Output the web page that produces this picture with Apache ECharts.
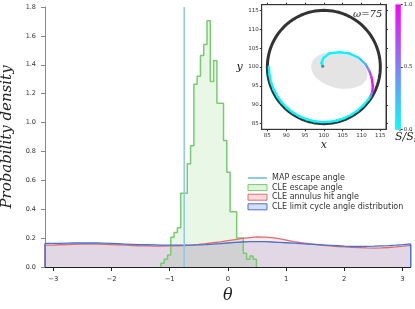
<!DOCTYPE html>
<html><head><meta charset="utf-8">
<script src="https://cdn.jsdelivr.net/npm/echarts@6/dist/echarts.min.js"></script>
<style>html,body{margin:0;padding:0;background:#fff}#c{width:415px;height:309px}</style>
</head><body><div id="c"></div>
<script>
// ---- main histogram data ----
const thetaTicks = [-3, -2, -1, 0, 1, 2, 3];
const densityTicks = [0, 0.2, 0.4, 0.6, 0.8, 1.0, 1.2, 1.4, 1.6, 1.8];
const ringBinCount = 50; // bins spanning [-pi, pi]
const limitCycleDensity = [0.163,0.164,0.165,0.166,0.167,0.166,0.166,0.165,0.163,0.161,0.159,0.157,0.155,0.154,0.153,0.152,0.151,0.151,0.151,0.152,0.153,0.155,0.158,0.162,0.166,0.170,0.173,0.175,0.176,0.175,0.173,0.171,0.168,0.165,0.162,0.159,0.156,0.153,0.150,0.147,0.144,0.142,0.142,0.143,0.144,0.146,0.148,0.151,0.155,0.160];
const annulusHitDensity = [0.152,0.154,0.155,0.157,0.158,0.158,0.158,0.157,0.155,0.153,0.151,0.149,0.147,0.146,0.145,0.145,0.146,0.147,0.149,0.152,0.156,0.162,0.168,0.174,0.182,0.190,0.198,0.204,0.208,0.207,0.203,0.196,0.186,0.176,0.168,0.161,0.155,0.150,0.146,0.142,0.139,0.136,0.134,0.132,0.131,0.132,0.135,0.139,0.144,0.150];
const escapeBinStart = -1.150;
const escapeBinWidth = 0.0566;
const escapeDensity = [0.026,0.053,0.083,0.206,0.238,0.272,0.51,0.51,0.714,0.84,1.266,1.32,1.464,1.54,1.705,1.284,1.43,1.134,1.134,0.875,0.656,0.383,0.383,0.2,0.2,0.095,0.053,0.076,0.053];
const mapEscapeAngle = -0.75;

// ---- inset data ----
const insetTicks = [85, 90, 95, 100, 105, 110, 115];
const annulusCenter = [100, 100];
const annulusRadius = 15;
const trajArcRadius = 14.6;
const trajArcAngles = [180,188,196,204,212,220,228,236,244,252,260,268,276,284,292,300,308,316,324,328]; // degrees
const trajArcSpeed = 0.03;
const spiralX = [112.9,113.0,112.7,112.1,111.1,109.3,106.7,104.1,101.5,99.9,99.36,99.7];
const spiralY = [93.6,95.0,97.2,98.9,100.7,102.4,103.6,103.9,103.6,102.4,101.1,100.2];
const spiralSpeed = [0.85,1.0,0.9,0.6,0.35,0.15,0.05,0.03,0.02,0.02,0.02,0.02];
const ellipseCenter = [104.1, 99.1];
const ellipseAxes = [7.6, 4.7];
const ellipseTiltDeg = -13;
const colorbarTicks = [0, 0.5, 1.0];

function stepPath(start, width, vals) {
  const pts = [[start, 0]];
  for (let i = 0; i < vals.length; i++) {
    pts.push([start + i * width, vals[i]]);
    pts.push([start + (i + 1) * width, vals[i]]);
  }
  pts.push([start + vals.length * width, 0]);
  return pts;
}
const ringW = 2 * Math.PI / ringBinCount;
const blueSteps = stepPath(-Math.PI, ringW, limitCycleDensity);
const redSteps = stepPath(-Math.PI, ringW, annulusHitDensity);
const greenSteps = stepPath(escapeBinStart, escapeBinWidth, escapeDensity);

// circle + trajectory
const circlePts = [];
for (let a = 0; a <= 360; a += 3) {
  const r = a * Math.PI / 180;
  circlePts.push([annulusCenter[0] + annulusRadius * Math.cos(r), annulusCenter[1] + annulusRadius * Math.sin(r)]);
}
const traj = [];
trajArcAngles.forEach(a => {
  const r = a * Math.PI / 180;
  traj.push([annulusCenter[0] + trajArcRadius * Math.cos(r), annulusCenter[1] + trajArcRadius * Math.sin(r), trajArcSpeed]);
});
spiralX.forEach((x, i) => traj.push([x, spiralY[i], spiralSpeed[i]]));
const segs = [];
for (let i = 0; i < traj.length - 1; i++) segs.push([i]);
function cool(s) {
  return 'rgb(' + Math.round(255 * s) + ',' + Math.round(255 * (1 - s)) + ',255)';
}
const ellipsePoly = [];
{
  const t = ellipseTiltDeg * Math.PI / 180;
  for (let a = 0; a < 360; a += 6) {
    const r = a * Math.PI / 180;
    const ex = ellipseAxes[0] * Math.cos(r), ey = ellipseAxes[1] * Math.sin(r);
    ellipsePoly.push([ellipseCenter[0] + ex * Math.cos(t) - ey * Math.sin(t), ellipseCenter[1] + ex * Math.sin(t) + ey * Math.cos(t)]);
  }
}

const fmtMinus = v => (v < 0 ? '\u2212' + (-v) : '' + v);
const tickFont = {fontFamily: 'DejaVu Sans', color: '#333'};
const mainL = 45, mainT = 7, mainR = 4.3, mainB = 42;
const inL = 261.7, inT = 4.7, inW = 124.3, inH = 124.6;

const chart = echarts.init(document.getElementById('c'), null, {renderer: 'canvas'});
chart.setOption({
  animation: false,
  backgroundColor: '#fff',
  grid: [
    {left: mainL, top: mainT, right: mainR, bottom: mainB, containLabel: false, outerBoundsMode: 'none'},
    {left: inL, top: inT, width: inW, height: inH, show: true, backgroundColor: '#fff', borderColor: '#333', borderWidth: 1, z: 5, containLabel: false, outerBoundsMode: 'none'},
    {left: 395.7, top: inT, width: 5, height: inH, show: true, borderColor: '#666', borderWidth: 0.5, z: 5, containLabel: false, outerBoundsMode: 'none'}
  ],
  xAxis: [
    {gridIndex: 0, type: 'value', min: -Math.PI, max: Math.PI,
     name: 'θ', nameLocation: 'middle', nameGap: 17,
     nameTextStyle: {fontFamily: 'DejaVu Serif', fontStyle: 'italic', fontSize: 16, color: '#222', verticalAlign: 'top'},
     axisLine: {onZero: false, lineStyle: {color: '#222', width: 1}},
     axisTick: {length: 4, customValues: thetaTicks, lineStyle: {color: '#222'}},
     axisLabel: {customValues: thetaTicks, formatter: fmtMinus, fontSize: 6.8, margin: 9, ...tickFont},
     splitLine: {show: false}},
    {gridIndex: 1, type: 'value', min: 83.5, max: 116.5,
     name: 'x', nameLocation: 'middle', nameGap: 5,
     nameTextStyle: {fontFamily: 'DejaVu Serif', fontStyle: 'italic', fontSize: 11, color: '#222', verticalAlign: 'top'},
     axisLine: {onZero: false, lineStyle: {color: '#333'}},
     axisTick: {length: 2, customValues: insetTicks, lineStyle: {color: '#333'}},
     axisLabel: {customValues: insetTicks, fontSize: 5.5, margin: 3, ...tickFont},
     splitLine: {show: false}, z: 6},
    {gridIndex: 1, type: 'value', position: 'top', min: 83.5, max: 116.5,
     axisLine: {onZero: false, lineStyle: {color: '#333'}},
     axisTick: {length: 2, customValues: insetTicks, lineStyle: {color: '#333'}},
     axisLabel: {show: false}, splitLine: {show: false}, z: 6},
    {gridIndex: 2, type: 'category', data: ['cb'], show: false}
  ],
  yAxis: [
    {gridIndex: 0, type: 'value', min: 0, max: 1.8, interval: 0.2,
     name: 'Probability density', nameLocation: 'middle', nameGap: 22,
     nameTextStyle: {fontFamily: 'DejaVu Serif', fontStyle: 'italic', fontSize: 15, color: '#222'},
     axisLine: {show: true, onZero: false, lineStyle: {color: '#888', width: 1}},
     axisTick: {show: true, length: 4, lineStyle: {color: '#888'}},
     axisLabel: {formatter: v => v.toFixed(1), fontSize: 6.5, margin: 9, ...tickFont},
     splitLine: {show: false}},
    {gridIndex: 1, type: 'value', min: 83.5, max: 116.5,
     name: 'y', nameLocation: 'middle', nameGap: 19, nameRotate: 0,
     nameTextStyle: {fontFamily: 'DejaVu Serif', fontStyle: 'italic', fontSize: 11, color: '#222'},
     axisLine: {show: true, onZero: false, lineStyle: {color: '#333'}},
     axisTick: {show: true, length: 2, customValues: insetTicks, lineStyle: {color: '#333'}},
     axisLabel: {customValues: insetTicks, fontSize: 5.5, margin: 3, ...tickFont},
     splitLine: {show: false}, z: 6},
    {gridIndex: 1, type: 'value', position: 'right', min: 83.5, max: 116.5,
     axisLine: {show: true, onZero: false, lineStyle: {color: '#333'}},
     axisTick: {show: true, length: 2, customValues: insetTicks, lineStyle: {color: '#333'}},
     axisLabel: {show: false}, splitLine: {show: false}, z: 6},
    {gridIndex: 2, type: 'value', position: 'right', min: 0, max: 1, interval: 0.5,
     axisLine: {show: false},
     axisTick: {show: true, length: 2, lineStyle: {color: '#333'}},
     axisLabel: {formatter: v => v.toFixed(1), fontSize: 5.5, margin: 3, ...tickFont},
     splitLine: {show: false}}
  ],
  legend: {
    orient: 'vertical', left: 247, top: 174, padding: 0, itemWidth: 19, itemHeight: 6, itemGap: 1.6,
    textStyle: {fontFamily: 'DejaVu Sans', fontSize: 8, color: '#333', lineHeight: 8},
    data: [
      {name: 'MAP escape angle', itemStyle: {color: 'rgba(0,0,0,0)', borderWidth: 0, opacity: 0}},
      {name: 'CLE escape angle', icon: 'rect', itemStyle: {color: 'rgba(110,200,100,0.22)', borderColor: '#78cc70', borderWidth: 1}},
      {name: 'CLE annulus hit angle', icon: 'rect', itemStyle: {color: 'rgba(225,90,90,0.22)', borderColor: '#e06c6c', borderWidth: 1}},
      {name: 'CLE limit cycle angle distribution', icon: 'rect', itemStyle: {color: 'rgba(70,110,210,0.22)', borderColor: '#4a72d0', borderWidth: 1}}
    ]
  },
  series: [
    {name: 'CLE escape angle', type: 'line', xAxisIndex: 0, yAxisIndex: 0, data: greenSteps, symbol: 'none',
     lineStyle: {color: '#78cc70', width: 1.5}, itemStyle: {color: '#78cc70'}, areaStyle: {color: 'rgba(110,200,100,0.22)'}, z: 2},
    {name: 'CLE annulus hit angle', type: 'line', xAxisIndex: 0, yAxisIndex: 0, data: redSteps, symbol: 'none',
     lineStyle: {color: '#e06c6c', width: 1.3}, itemStyle: {color: '#e06c6c'}, areaStyle: {color: 'rgba(225,90,90,0.2)'}, z: 2},
    {name: 'CLE limit cycle angle distribution', type: 'line', xAxisIndex: 0, yAxisIndex: 0, data: blueSteps, symbol: 'none',
     lineStyle: {color: '#4a72d0', width: 1.3}, itemStyle: {color: '#4a72d0'}, areaStyle: {color: 'rgba(70,110,210,0.2)'}, z: 2},
    {name: 'MAP escape angle', type: 'line', xAxisIndex: 0, yAxisIndex: 0, data: [[mapEscapeAngle, 0], [mapEscapeAngle, 1.8]], symbol: 'none',
     lineStyle: {color: '#8ccbe6', width: 1.5}, itemStyle: {color: '#8ccbe6'}, z: 3},
    {type: 'custom', xAxisIndex: 1, yAxisIndex: 1, data: [[0]], z: 6, silent: true,
     renderItem: (p, api) => ({type: 'polygon', shape: {points: ellipsePoly.map(q => api.coord(q))}, style: {fill: '#e4e4e4'}})},
    {type: 'line', xAxisIndex: 1, yAxisIndex: 1, data: circlePts, symbol: 'none', z: 7, silent: true,
     lineStyle: {color: '#333', width: 3}},
    {type: 'custom', xAxisIndex: 1, yAxisIndex: 1, data: segs, z: 8, silent: true,
     renderItem: (p, api) => {
       const i = api.value(0);
       const a = traj[i], b = traj[i + 1];
       return {type: 'line', shape: {x1: api.coord(a)[0], y1: api.coord(a)[1], x2: api.coord(b)[0], y2: api.coord(b)[1]},
               style: {stroke: cool((a[2] + b[2]) / 2), lineWidth: 2.4, lineCap: 'round'}};
     }},
    {type: 'scatter', xAxisIndex: 1, yAxisIndex: 1, data: [[spiralX[spiralX.length - 1], spiralY[spiralY.length - 1]]],
     symbolSize: 3, itemStyle: {color: '#666'}, z: 9, silent: true},
    {type: 'bar', xAxisIndex: 3, yAxisIndex: 3, data: [1], barWidth: '100%', silent: true, z: 6,
     itemStyle: {color: new echarts.graphic.LinearGradient(0, 0, 0, 1, [{offset: 0, color: '#ff00ff'}, {offset: 1, color: '#00ffff'}])}}
  ],
  graphic: [
    {type: 'text', left: 353, top: 9, z: 20,
     style: {text: 'ω=75', font: 'italic 10px "DejaVu Serif"', fill: '#222'}},
    {type: 'text', left: 395, top: 132, z: 20,
     style: {text: '{a|Ṡ/Ṡ}{b|max}', rich: {a: {font: 'italic 11px "DejaVu Serif"', fill: '#222'}, b: {font: 'italic 7px "DejaVu Serif"', fill: '#222', verticalAlign: 'bottom', padding: [6, 0, 0, 0]}}}}
  ]
});
</script></body></html>
